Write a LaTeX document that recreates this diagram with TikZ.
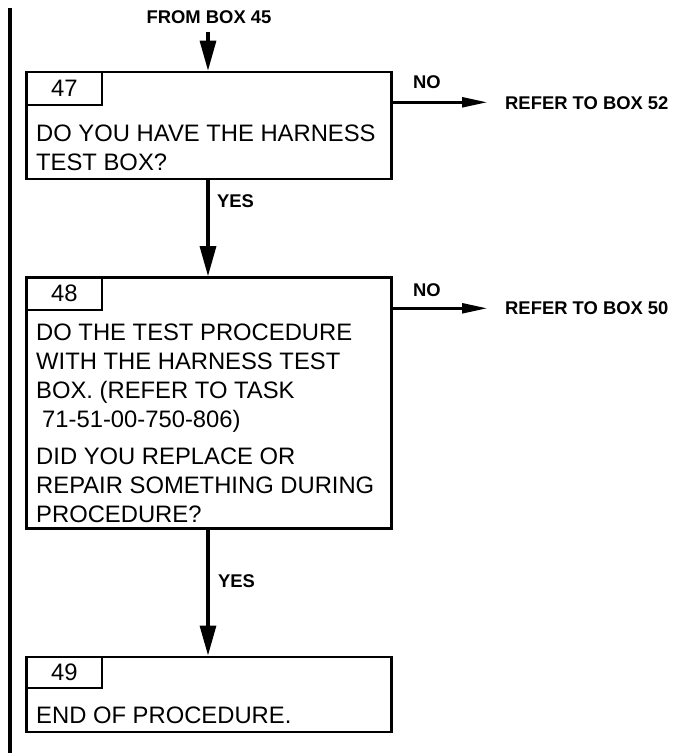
\documentclass[tikz,border=0pt]{standalone}
\usepackage{fontspec}
\setmainfont{Liberation Sans}
\usetikzlibrary{arrows.meta}
\begin{document}
\begin{tikzpicture}[x=1pt,y=-1pt,
  boxframe/.style={draw=black,line width=2.6pt},
  tabframe/.style={draw=black,line width=2.2pt},
  body/.style={anchor=base west,inner sep=0pt,font=\fontsize{23.8}{29}\selectfont},
  num/.style={inner sep=0pt,font=\fontsize{23.8}{29}\selectfont},
  lbl/.style={inner sep=0pt,font=\bfseries\fontsize{18.4}{22}\selectfont},
  varrow/.style={line width=3.2pt,-{Triangle[length=30pt,width=16pt]}},
  harrow/.style={line width=2.4pt,-{Triangle[length=25pt,width=10pt]}}]
\useasboundingbox (0,0) rectangle (673,753);
% left change bar
\fill[black] (7.5,7.5) rectangle (12.3,753);
% header
\node[lbl] (from) at (209,17.5) {FROM BOX 45};
\coordinate (fromtop) at (208,31.5);
% box 47
\node[boxframe,minimum width=365pt,minimum height=107pt,inner sep=0pt] (b47) at (209,125.5) {};
\node[tabframe,minimum width=76pt,minimum height=33pt,inner sep=0pt,anchor=north west] (n47) at (b47.north west) {};
\node[num] (n47t) at (n47.center) {47};
\node[body] (t47a) at (36,141.5) {DO YOU HAVE THE HARNESS};
\node[body] (t47b) at (36,170) {TEST BOX?};
% box 48
\node[boxframe,minimum width=365pt,minimum height=251pt,inner sep=0pt] (b48) at (209,403) {};
\node[tabframe,minimum width=76pt,minimum height=33pt,inner sep=0pt,anchor=north west] (n48) at (b48.north west) {};
\node[num] (n48t) at (n48.center) {48};
\node[body] (t48a) at (36,340) {DO THE TEST PROCEDURE};
\node[body] (t48b) at (36,369) {WITH THE HARNESS TEST};
\node[body] (t48c) at (36,398) {BOX. (REFER TO TASK};
\node[body] (t48d) at (42,427) {71-51-00-750-806)};
\node[body] (t48e) at (36,464) {DID YOU REPLACE OR};
\node[body] (t48f) at (36,493) {REPAIR SOMETHING DURING};
\node[body] (t48g) at (36,522) {PROCEDURE?};
% box 49
\node[boxframe,minimum width=365pt,minimum height=75pt,inner sep=0pt] (b49) at (209,694.3) {};
\node[tabframe,minimum width=76pt,minimum height=31pt,inner sep=0pt,anchor=north west] (n49) at (b49.north west) {};
\node[num] (n49t) at (n49.center) {49};
\node[body] (t49a) at (36,723.3) {END OF PROCEDURE.};
% right-hand exits
\coordinate (no47) at (392,102.3);
\coordinate (no47e) at (487,102.3);
\node[lbl,anchor=west] (r52) at (505,103.3) {REFER TO BOX 52};
\node[lbl,anchor=west] (lno47) at (413,82) {NO};
\coordinate (no48) at (392,308.3);
\coordinate (no48e) at (487,308.3);
\node[lbl,anchor=west] (r50) at (505,308.3) {REFER TO BOX 50};
\node[lbl,anchor=west] (lno48) at (413,290) {NO};
% yes labels
\node[lbl,anchor=west] (y47) at (217,201.5) {YES};
\node[lbl,anchor=west] (y48) at (218,581.5) {YES};
% connectors
\draw[varrow] (fromtop) -- ([xshift=-1pt]b47.north);
\draw[varrow] ([xshift=-1pt]b47.south) -- ([xshift=-1pt]b48.north);
\draw[varrow] ([xshift=-1pt]b48.south) -- ([xshift=-1pt]b49.north);
\draw[harrow] (no47) -- (no47e);
\draw[harrow] (no48) -- (no48e);
\end{tikzpicture}
\end{document}
